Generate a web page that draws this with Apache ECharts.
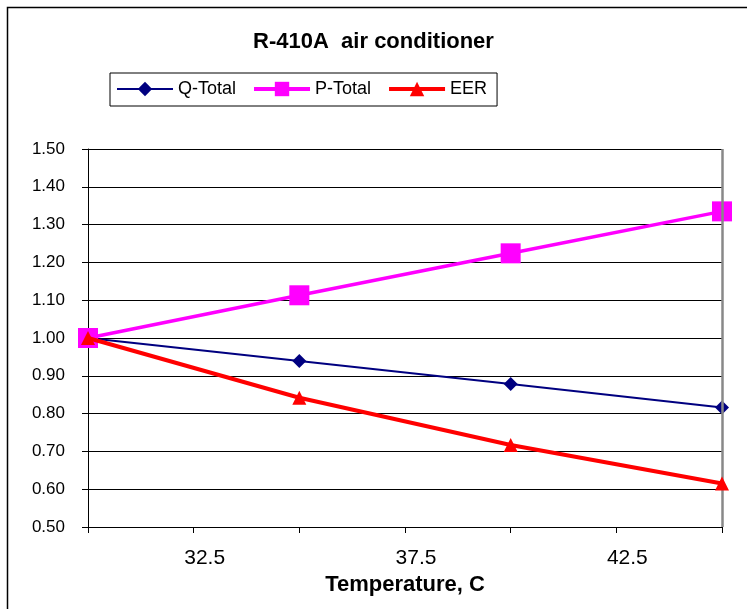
<!DOCTYPE html>
<html>
<head>
<meta charset="utf-8">
<script src="https://cdn.jsdelivr.net/npm/echarts@6/dist/echarts.min.js"></script>
<style>html,body{margin:0;padding:0;background:#fff;}#c{width:747px;height:609px;}</style>
</head>
<body>
<div id="c"></div>
<script>
const temps = [30, 35, 40, 45];
const qTotal = [1.00, 0.939, 0.878, 0.816];
const pTotal = [1.00, 1.113, 1.224, 1.335];
const eer = [1.00, 0.842, 0.717, 0.615];
const shownXLabels = ['32.5', '37.5', '42.5'];
const titleText = 'R-410A  air conditioner';
const xName = 'Temperature, C';

const pair = arr => temps.map((t, i) => [t, arr[i]]);
const font = 'Arial, "Liberation Sans", sans-serif';

const chart = echarts.init(document.getElementById('c'));
chart.setOption({
  animation: false,
  backgroundColor: '#fff',
  graphic: [{
    type: 'rect', left: 5, top: 5, z: -1,
    shape: { x: 0, y: 0, width: 800, height: 700 },
    style: { fill: 'none', stroke: '#000', lineWidth: 1.5 }
  }],
  title: {
    text: titleText, left: 'center', top: 26,
    textStyle: { fontFamily: font, fontSize: 22, fontWeight: 'bold', color: '#000' }
  },
  legend: {
    left: 110, top: 73,
    padding: [7, 10, 8, 6],
    itemGap: 16,
    itemWidth: 56, itemHeight: 18,
    borderColor: '#000', borderWidth: 1,
    textStyle: { fontFamily: font, fontSize: 18, color: '#000' },
    data: [
      { name: 'Q-Total', lineStyle: { width: 2 } },
      { name: 'P-Total', lineStyle: { width: 4 } },
      { name: 'EER', lineStyle: { width: 4 } }
    ]
  },
  grid: { left: 88, right: 25, top: 149, bottom: 82 },
  xAxis: {
    type: 'value', min: 30, max: 45, interval: 2.5,
    name: xName, nameLocation: 'middle', nameGap: 47,
    nameTextStyle: { fontFamily: font, fontSize: 22, fontWeight: 'bold', color: '#000' },
    axisLine: { lineStyle: { color: '#000', width: 1 } },
    axisTick: { show: true, length: 6, lineStyle: { color: '#000' } },
    axisLabel: {
      fontFamily: font, fontSize: 21, color: '#000', margin: 21,
      padding: [0, 0, 0, 22],
      formatter: v => { const s = v.toFixed(1); return shownXLabels.includes(s) ? s : ''; }
    },
    splitLine: { show: false }
  },
  yAxis: {
    type: 'value', min: 0.5, max: 1.5, interval: 0.1,
    axisLine: { show: true, lineStyle: { color: '#000', width: 1 } },
    axisTick: { show: true, length: 6, lineStyle: { color: '#000' } },
    axisLabel: {
      fontFamily: font, fontSize: 17, color: '#000', margin: 23,
      formatter: v => v.toFixed(2)
    },
    splitLine: { show: true, lineStyle: { color: '#000', width: 1 } }
  },
  series: [
    {
      name: 'edge', type: 'line', data: [], z: 1, silent: true,
      markLine: {
        silent: true, symbol: 'none', label: { show: false },
        lineStyle: { color: '#888', width: 2.5, type: 'solid' },
        data: [{ xAxis: 45 }]
      }
    },
    {
      name: 'Q-Total', type: 'line', data: pair(qTotal), z: 3,
      symbol: 'diamond', symbolSize: 14,
      lineStyle: { color: '#000080', width: 2 },
      itemStyle: { color: '#000080' }
    },
    {
      name: 'P-Total', type: 'line', data: pair(pTotal), z: 4,
      symbol: 'rect', symbolSize: 20,
      lineStyle: { color: '#FF00FF', width: 3.5 },
      itemStyle: { color: '#FF00FF' }
    },
    {
      name: 'EER', type: 'line', data: pair(eer), z: 5,
      symbol: 'triangle', symbolSize: 14,
      lineStyle: { color: '#FF0000', width: 4 },
      itemStyle: { color: '#FF0000' }
    }
  ]
});
</script>
</body>
</html>
